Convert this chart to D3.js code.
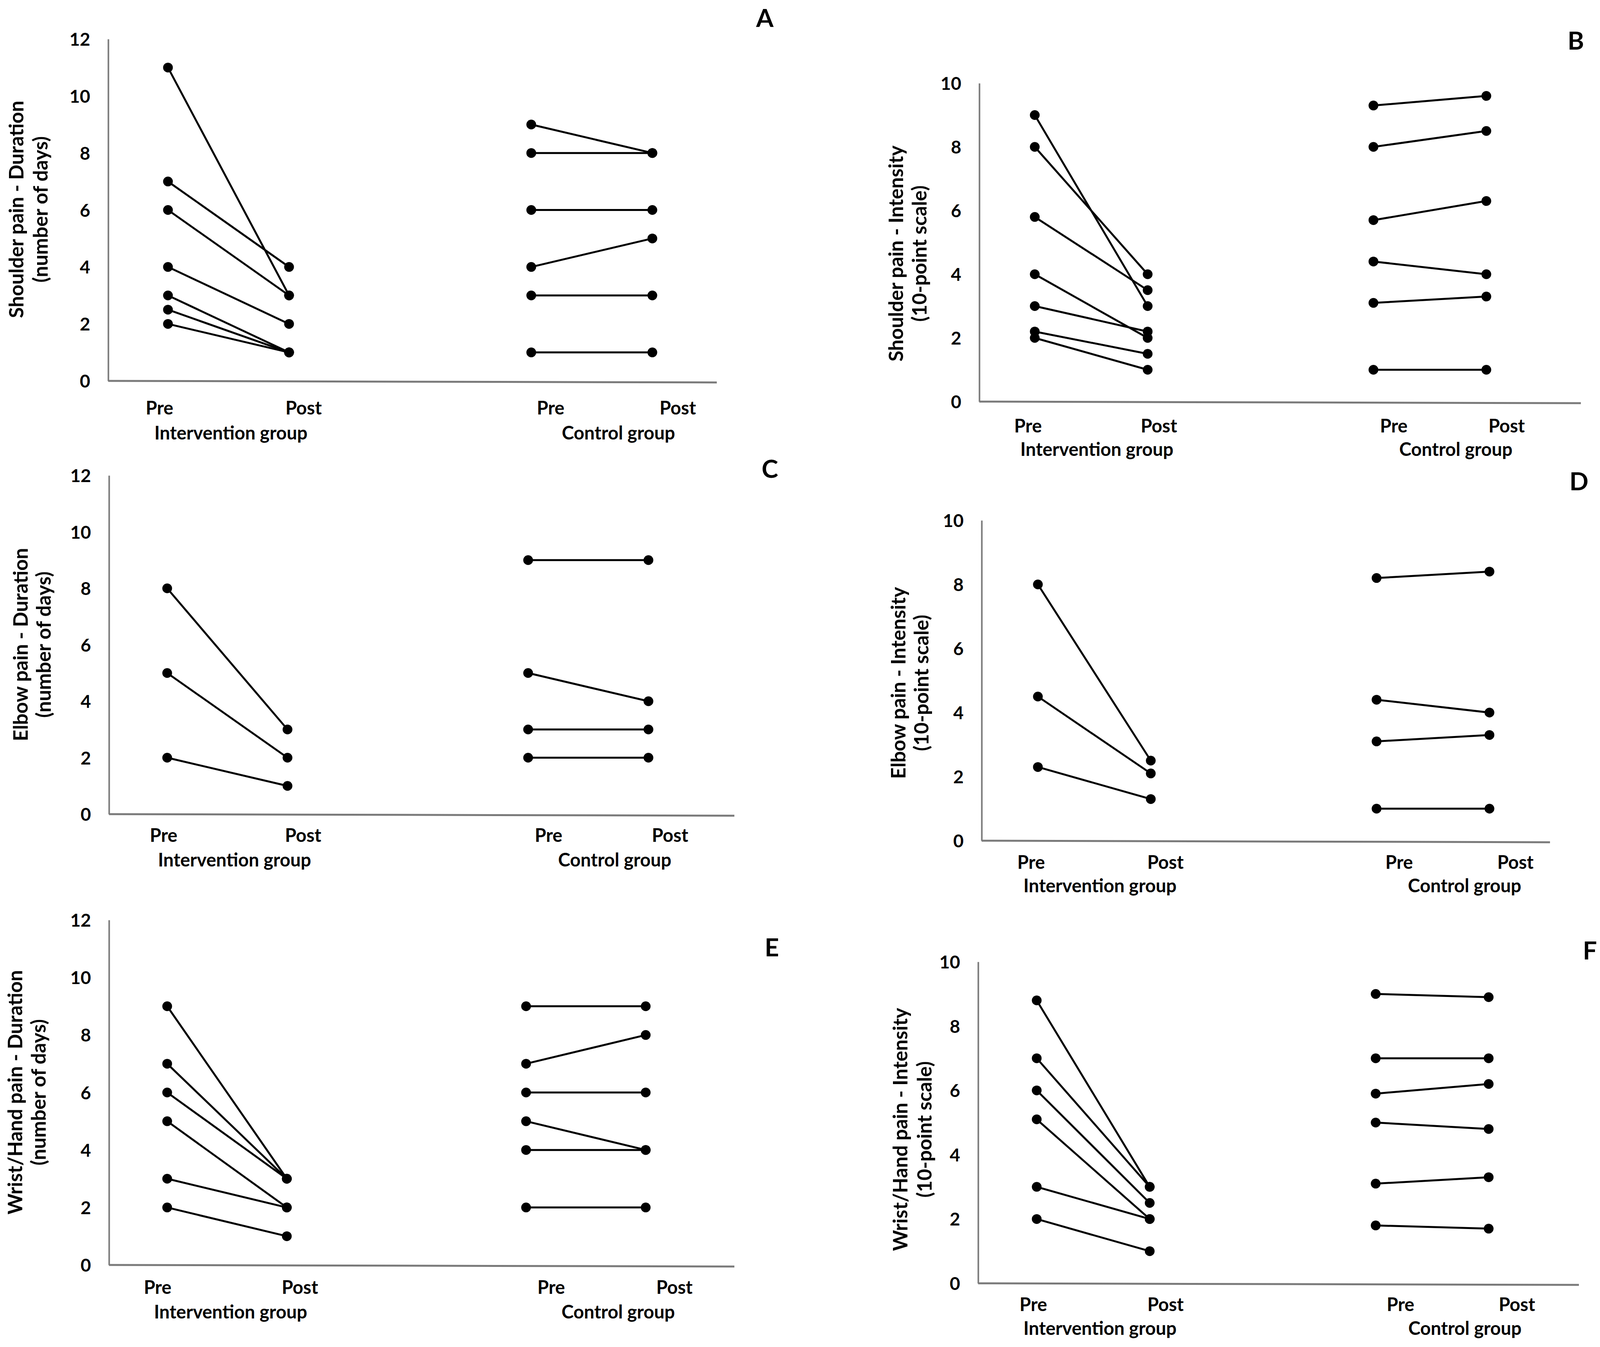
<!DOCTYPE html>
<html>
<head>
<meta charset="utf-8">
<script src="https://cdn.jsdelivr.net/npm/d3@7"></script>
<style>
  html, body { margin: 0; padding: 0; background: #fff; overflow: hidden; }
  svg { display: block; }
  text { font-family: Lato, "Open Sans", sans-serif; fill: #000; }
</style>
</head>
<body>
<div id="chart"></div>
<script>
// values (pre -> post per participant)
var tickLabelsA = [0, 2, 4, 6, 8, 10, 12];
var tickLabelsB = [0, 2, 4, 6, 8, 10];
var categories = ["Pre", "Post", "Pre", "Post"];
var groups = ["Intervention group", "Control group"];

var shoulderDurIntPre = [11, 7, 6, 4, 3, 2.5, 2];
var shoulderDurIntPost = [3, 4, 3, 2, 1, 1, 1];
var shoulderDurCtrlPre = [9, 8, 6, 4, 3, 1];
var shoulderDurCtrlPost = [8, 8, 6, 5, 3, 1];

var shoulderIntIntPre = [9, 8, 5.8, 4, 3, 2.2, 2];
var shoulderIntIntPost = [3, 4, 3.5, 2, 2.2, 1.5, 1];
var shoulderIntCtrlPre = [9.3, 8, 5.7, 4.4, 3.1, 1];
var shoulderIntCtrlPost = [9.6, 8.5, 6.3, 4, 3.3, 1];

var elbowDurIntPre = [8, 5, 2];
var elbowDurIntPost = [3, 2, 1];
var elbowDurCtrlPre = [9, 5, 3, 2];
var elbowDurCtrlPost = [9, 4, 3, 2];

var elbowIntIntPre = [8, 4.5, 2.3];
var elbowIntIntPost = [2.5, 2.1, 1.3];
var elbowIntCtrlPre = [8.2, 4.4, 3.1, 1];
var elbowIntCtrlPost = [8.4, 4, 3.3, 1];

var wristDurIntPre = [9, 7, 6, 5, 3, 2];
var wristDurIntPost = [3, 3, 3, 2, 2, 1];
var wristDurCtrlPre = [9, 7, 6, 5, 4, 2];
var wristDurCtrlPost = [9, 8, 6, 4, 4, 2];

var wristIntIntPre = [8.8, 7, 6, 5.1, 3, 2];
var wristIntIntPost = [3, 3, 2.5, 2, 2, 1];
var wristIntCtrlPre = [9, 7, 5.9, 5, 3.1, 1.8];
var wristIntCtrlPost = [8.9, 7, 6.2, 4.8, 3.3, 1.7];

// panel layout (pixel positions of each sub-chart)
var panels = [
  {letter: "A", title: ["Shoulder pain - Duration", "(number of days)"], ticks: tickLabelsA,
   intPre: shoulderDurIntPre, intPost: shoulderDurIntPost, ctrlPre: shoulderDurCtrlPre, ctrlPost: shoulderDurCtrlPost,
   axisX: 277, xEnd: 1835, yTop: 100, yBottom: 975, s0: 430, s4: 1670,
   labelSlots: [-0.07, 1.12, 3.16, 4.21], groupSlots: [0.52, 3.72], labelY: 1045, groupY: 1109,
   letterPos: [1958, 47], titleX: [42, 104], titleY: 536},
  {letter: "B", title: ["Shoulder pain - Intensity", "(10-point scale)"], ticks: tickLabelsB,
   intPre: shoulderIntIntPre, intPost: shoulderIntIntPost, ctrlPre: shoulderIntCtrlPre, ctrlPost: shoulderIntCtrlPost,
   axisX: 2507, xEnd: 4047, yTop: 213, yBottom: 1028, s0: 2649, s4: 3805,
   labelSlots: [-0.06, 1.10, 3.18, 4.18], groupSlots: [0.55, 3.73], labelY: 1091, groupY: 1151,
   letterPos: [4034, 105], titleX: [2294, 2354], titleY: 649},
  {letter: "C", title: ["Elbow pain - Duration", "(number of days)"], ticks: tickLabelsA,
   intPre: elbowDurIntPre, intPost: elbowDurIntPost, ctrlPre: elbowDurCtrlPre, ctrlPost: elbowDurCtrlPost,
   axisX: 279, xEnd: 1880, yTop: 1217, yBottom: 2084, s0: 428, s4: 1660,
   labelSlots: [-0.03, 1.13, 3.17, 4.18], groupSlots: [0.56, 3.72], labelY: 2139, groupY: 2202,
   letterPos: [1971, 1201], titleX: [53, 112], titleY: 1650},
  {letter: "D", title: ["Elbow pain - Intensity", "(10-point scale)"], ticks: tickLabelsB,
   intPre: elbowIntIntPre, intPost: elbowIntIntPost, ctrlPre: elbowIntCtrlPre, ctrlPost: elbowIntCtrlPost,
   axisX: 2513, xEnd: 3968, yTop: 1332, yBottom: 2152, s0: 2657, s4: 3813,
   labelSlots: [-0.06, 1.13, 3.20, 4.23], groupSlots: [0.55, 3.78], labelY: 2208, groupY: 2268,
   letterPos: [4042, 1233], titleX: [2300, 2359], titleY: 1748},
  {letter: "E", title: ["Wrist/Hand pain - Duration", "(number of days)"], ticks: tickLabelsA,
   intPre: wristDurIntPre, intPost: wristDurIntPost, ctrlPre: wristDurCtrlPre, ctrlPost: wristDurCtrlPost,
   axisX: 279, xEnd: 1880, yTop: 2355, yBottom: 3238, s0: 428, s4: 1653,
   labelSlots: [-0.08, 1.11, 3.21, 4.24], groupSlots: [0.53, 3.77], labelY: 3296, groupY: 3359,
   letterPos: [1976, 2426], titleX: [39, 99], titleY: 2796},
  {letter: "F", title: ["Wrist/Hand pain - Intensity", "(10-point scale)"], ticks: tickLabelsB,
   intPre: wristIntIntPre, intPost: wristIntIntPost, ctrlPre: wristIntCtrlPre, ctrlPost: wristIntCtrlPost,
   axisX: 2504, xEnd: 4042, yTop: 2462, yBottom: 3285, s0: 2654, s4: 3811,
   labelSlots: [-0.03, 1.14, 3.22, 4.25], groupSlots: [0.56, 3.79], labelY: 3340, groupY: 3401,
   letterPos: [4070, 2434], titleX: [2305, 2367], titleY: 2891}
];

var width = 4120, height = 3448;
var svg = d3.select("#chart").append("svg")
    .attr("width", width)
    .attr("height", height)
    .attr("viewBox", [0, 0, width, height]);

function drawPanel(p) {
    var g = svg.append("g");
    var maxTick = d3.max(p.ticks);
    var yScale = d3.scaleLinear().domain([0, maxTick]).range([p.yBottom, p.yTop]);
    // slots 0,1 = intervention pre/post, 3,4 = control pre/post
    var xScale = d3.scaleLinear().domain([0, 4]).range([p.s0, p.s4]);

    // y axis: grey spine, labels only (no tick marks)
    var yAxis = d3.axisLeft(yScale).tickValues(p.ticks).tickSize(0).tickPadding(46)
        .tickFormat(d3.format("d"));
    var ga = g.append("g").attr("transform", `translate(${p.axisX},0)`).call(yAxis);
    ga.select(".domain").attr("stroke", "#7a7a7a").attr("stroke-width", 4);
    ga.selectAll("text").style("font-size", "46px").style("font-weight", "bold")
        .attr("font-family", null).attr("dy", "0.36em");

    // x axis spine
    g.append("line")
        .attr("x1", p.axisX).attr("x2", p.xEnd)
        .attr("y1", yScale(0)).attr("y2", yScale(0) + 4)
        .attr("stroke", "#7a7a7a").attr("stroke-width", 5);

    // category labels
    g.selectAll("text.cat").data(categories).enter().append("text")
        .attr("class", "cat")
        .attr("x", function(d, i) { return xScale(p.labelSlots[i]); })
        .attr("y", p.labelY)
        .attr("dy", "0.35em")
        .attr("text-anchor", "middle")
        .style("font-size", "47px").style("font-weight", "bold")
        .text(function(d) { return d; });

    g.selectAll("text.grp").data(groups).enter().append("text")
        .attr("class", "grp")
        .attr("x", function(d, i) { return xScale(p.groupSlots[i]); })
        .attr("y", p.groupY)
        .attr("dy", "0.35em")
        .attr("text-anchor", "middle")
        .style("font-size", "47px").style("font-weight", "bold")
        .text(function(d) { return d; });

    // y title (two lines, rotated)
    p.title.forEach(function(t, i) {
        g.append("text")
            .attr("transform", `translate(${p.titleX[i]},${p.titleY}) rotate(-90)`)
            .attr("text-anchor", "middle")
            .attr("dy", "0.35em")
            .style("font-size", "51px").style("font-weight", "bold")
            .text(t);
    });

    // panel letter
    g.append("text")
        .attr("x", p.letterPos[0]).attr("y", p.letterPos[1])
        .attr("dy", "0.35em")
        .attr("text-anchor", "middle")
        .style("font-size", "64px").style("font-weight", "bold")
        .text(p.letter);

    // paired lines: intervention then control
    var pairs = [];
    p.intPre.forEach(function(v, i) { pairs.push({a: 0, b: 1, pre: v, post: p.intPost[i]}); });
    p.ctrlPre.forEach(function(v, i) { pairs.push({a: 3, b: 4, pre: v, post: p.ctrlPost[i]}); });

    g.selectAll("line.pair").data(pairs).enter().append("line")
        .attr("class", "pair")
        .attr("x1", function(d) { return xScale(d.a); })
        .attr("x2", function(d) { return xScale(d.b); })
        .attr("y1", function(d) { return yScale(d.pre); })
        .attr("y2", function(d) { return yScale(d.post); })
        .attr("stroke", "#000").attr("stroke-width", 5);

    var dots = [];
    pairs.forEach(function(d) {
        dots.push({slot: d.a, v: d.pre});
        dots.push({slot: d.b, v: d.post});
    });
    g.selectAll("circle.dot").data(dots).enter().append("circle")
        .attr("class", "dot")
        .attr("cx", function(d) { return xScale(d.slot); })
        .attr("cy", function(d) { return yScale(d.v); })
        .attr("r", 12.5)
        .attr("fill", "#000");
}

panels.forEach(drawPanel);
</script>
</body>
</html>
